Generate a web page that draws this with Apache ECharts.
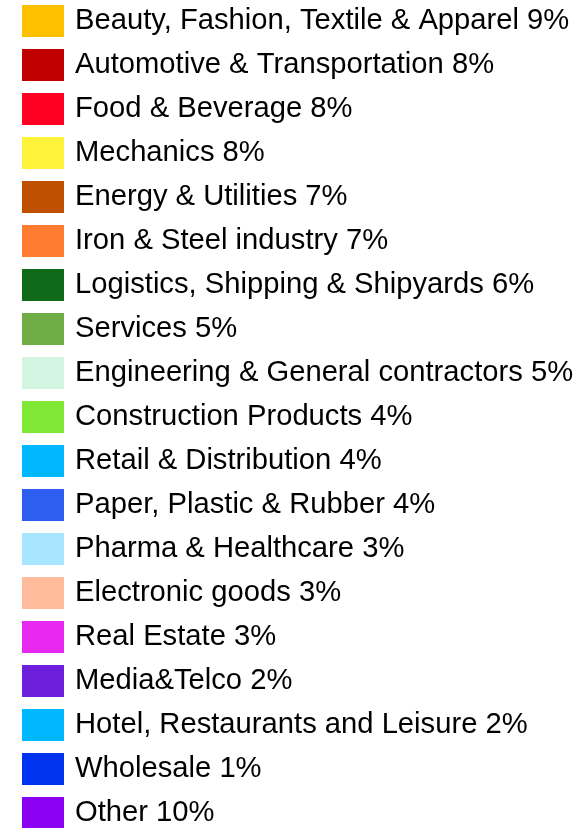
<!DOCTYPE html>
<html>
<head>
<meta charset="utf-8">
<script src="https://cdn.jsdelivr.net/npm/echarts@6/dist/echarts.min.js"></script>
<style>
  html, body { margin: 0; padding: 0; background: #ffffff; }
  #chart { width: 580px; height: 828px; }
</style>
</head>
<body>
<div id="chart"></div>
<script>
// Industry sectors and their share (%)
const sectors = [
  'Beauty, Fashion, Textile & Apparel',
  'Automotive & Transportation',
  'Food & Beverage',
  'Mechanics',
  'Energy & Utilities',
  'Iron & Steel industry',
  'Logistics, Shipping & Shipyards',
  'Services',
  'Engineering & General contractors',
  'Construction Products',
  'Retail & Distribution',
  'Paper, Plastic & Rubber',
  'Pharma & Healthcare',
  'Electronic goods',
  'Real Estate',
  'Media&Telco',
  'Hotel, Restaurants and Leisure',
  'Wholesale',
  'Other'
];
const shares = [9, 8, 8, 8, 7, 7, 6, 5, 5, 4, 4, 4, 3, 3, 3, 2, 2, 1, 10];
const sectorColors = [
  '#FFC000', '#C00000', '#FF0022', '#FFF23A', '#BF5000', '#FF7C31',
  '#0F6B1A', '#70AD47', '#D4F5E2', '#7FE834', '#00B8FF', '#2E5EF0',
  '#A8E6FF', '#FFBB9C', '#E628F0', '#6E1FDC', '#00B8FF', '#0033F0',
  '#8B00F0'
];

const shareByName = {};
sectors.forEach((s, i) => { shareByName[s] = shares[i]; });

const chart = echarts.init(document.getElementById('chart'), null, { renderer: 'canvas' });
chart.setOption({
  backgroundColor: '#ffffff',
  animation: false,
  color: sectorColors,
  legend: {
    type: 'plain',
    orient: 'vertical',
    left: 22,
    top: 5,
    height: 2000,
    padding: 0,
    itemWidth: 42,
    itemHeight: 32,
    itemGap: 12,
    icon: 'rect',
    selectedMode: false,
    formatter: name => name + ' ' + shareByName[name] + '%',
    textStyle: {
      fontFamily: '"Liberation Sans", Arial, sans-serif',
      fontSize: 29.2,
      lineHeight: 29,
      color: '#000000',
      padding: [3, 0, 0, 6]
    },
    data: sectors
  },
  series: [{
    type: 'pie',
    center: [-2000, -2000],
    radius: [0, 10],
    label: { show: false },
    labelLine: { show: false },
    silent: true,
    data: sectors.map((s, i) => ({ name: s, value: shares[i] }))
  }]
});
</script>
</body>
</html>
